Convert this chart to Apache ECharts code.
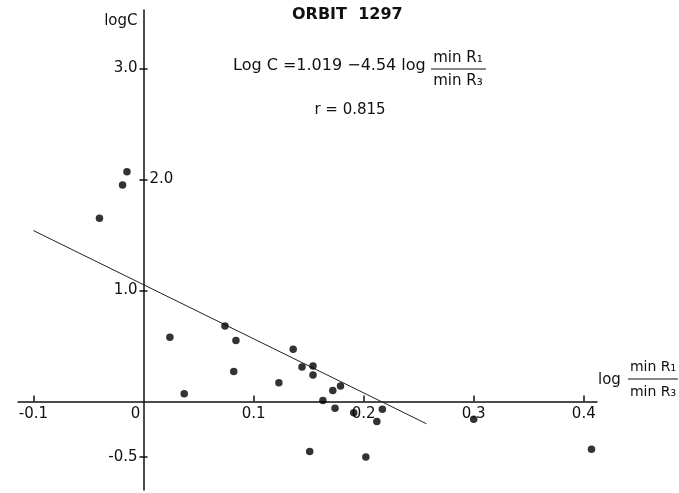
<!DOCTYPE html>
<html>
<head>
<meta charset="utf-8">
<script src="https://cdn.jsdelivr.net/npm/echarts@6/dist/echarts.min.js"></script>
<style>
  html, body { margin: 0; padding: 0; background: #fff; }
  #chart { width: 679px; height: 493px; }
</style>
</head>
<body>
<div id="chart"></div>
<script>
  // values
  var ratioLog = [-0.015, -0.019, -0.040, 0.024, 0.037, 0.074, 0.084, 0.082, 0.123, 0.136, 0.144, 0.154,
                  0.154, 0.163, 0.172, 0.174, 0.179, 0.191, 0.217, 0.212, 0.151, 0.202, 0.300, 0.407];
  var logC = [2.07, 1.95, 1.65, 0.58, 0.07, 0.68, 0.55, 0.27, 0.17, 0.47, 0.31, 0.32,
              0.24, 0.01, 0.10, -0.06, 0.14, -0.10, -0.07, -0.18, -0.45, -0.50, -0.16, -0.43];
  // regression line ends
  var fitX = [-0.1, 0.257];
  var fitY = [1.54, -0.20];
  // ticks and tick labels
  var xTicks = [-0.1, 0.1, 0.2, 0.3, 0.4];
  var xTickLabels = [-0.1, 0, 0.1, 0.2, 0.3, 0.4];
  var yTicks = [3.0, 2.0, 1.0, -0.5];
  var yLabelsLeft = [3.0, 1.0, -0.5];
  var yLabelsRight = [2.0];

  var font = 'DejaVu Sans';
  var ink = '#111';

  var pts = ratioLog.map(function (x, i) { return [x, logC[i]]; });
  var fit = fitX.map(function (x, i) { return [x, fitY[i]]; });

  var chart = echarts.init(document.getElementById('chart'));

  // axes cross at the origin: offsets move them from the grid edges to x=0 / y=0
  var yAxisShift = -125.5;
  var xAxisShift = -88.5;

  var option = {
    animation: false,
    backgroundColor: '#fff',
    title: {
      text: 'ORBIT  1297',
      left: 292,
      top: 7,
      padding: 0,
      textStyle: { fontFamily: font, fontSize: 16, fontWeight: 'bold', color: ink }
    },
    grid: { left: 18, right: 82, top: 10, bottom: 3, containLabel: false, outerBoundsMode: 'none' },
    xAxis: {
      type: 'value',
      min: -0.114,
      max: 0.412,
      position: 'bottom',
      offset: xAxisShift,
      axisLine: { show: true, onZero: false, lineStyle: { color: ink, width: 1.5 } },
      axisTick: { show: true, inside: true, length: 6, customValues: xTicks, lineStyle: { color: ink, width: 1.5 } },
      axisLabel: {
        show: true,
        customValues: xTickLabels,
        margin: 5,
        fontFamily: font,
        fontSize: 15,
        color: ink,
        formatter: function (v) {
          if (Math.abs(v) < 1e-9) return '{z|0}';
          return v.toFixed(1);
        },
        rich: { z: { fontFamily: font, fontSize: 15, color: ink, padding: [0, 16, 0, 0] } }
      },
      splitLine: { show: false }
    },
    yAxis: [
      {
        type: 'value',
        min: -0.797,
        max: 3.527,
        position: 'left',
        offset: yAxisShift,
        name: 'logC',
        nameLocation: 'end',
        nameGap: -4,
        nameTextStyle: { fontFamily: font, fontSize: 15, color: ink, align: 'right', verticalAlign: 'top', padding: [0, 6, 0, 0] },
        axisLine: { show: true, onZero: false, lineStyle: { color: ink, width: 1.5 } },
        axisTick: { show: true, inside: false, length: 4, customValues: yTicks, lineStyle: { color: ink, width: 1.5 } },
        axisLabel: {
          show: true,
          customValues: yLabelsLeft,
          margin: 6,
          fontFamily: font,
          fontSize: 15,
          color: ink,
          formatter: function (v) { return v.toFixed(1); }
        },
        splitLine: { show: false }
      },
      {
        type: 'value',
        min: -0.797,
        max: 3.527,
        position: 'left',
        offset: yAxisShift,
        axisLine: { show: false, onZero: false },
        axisTick: { show: true, inside: true, length: 4, customValues: yTicks, lineStyle: { color: ink, width: 1.5 } },
        axisLabel: {
          show: true,
          inside: true,
          customValues: yLabelsRight,
          margin: 6,
          fontFamily: font,
          fontSize: 15,
          color: ink,
          formatter: function (v) { return v.toFixed(1); }
        },
        splitLine: { show: false }
      }
    ],
    series: [
      {
        name: 'fit',
        type: 'line',
        data: fit,
        symbol: 'none',
        lineStyle: { color: '#222', width: 1 },
        z: 2
      },
      {
        name: 'orbit 1297',
        type: 'scatter',
        data: pts,
        symbolSize: 7.5,
        itemStyle: { color: '#000' },
        z: 3
      }
    ],
    graphic: [
      { type: 'text', x: 233, y: 66, style: { text: 'Log C =1.019 −4.54 log', fontFamily: font, fontSize: 16, fill: ink, textAlign: 'left', textVerticalAlign: 'middle' } },
      { type: 'text', x: 458, y: 58, style: { text: 'min R₁', fontFamily: font, fontSize: 15, fill: ink, textAlign: 'center', textVerticalAlign: 'middle' } },
      { type: 'line', shape: { x1: 431, y1: 69, x2: 486, y2: 69 }, style: { stroke: ink, lineWidth: 1 } },
      { type: 'text', x: 458, y: 81, style: { text: 'min R₃', fontFamily: font, fontSize: 15, fill: ink, textAlign: 'center', textVerticalAlign: 'middle' } },
      { type: 'text', x: 350, y: 110, style: { text: 'r = 0.815', fontFamily: font, fontSize: 15, fill: ink, textAlign: 'center', textVerticalAlign: 'middle' } },
      { type: 'text', x: 598, y: 380, style: { text: 'log', fontFamily: font, fontSize: 15, fill: ink, textAlign: 'left', textVerticalAlign: 'middle' } },
      { type: 'text', x: 653, y: 367, style: { text: 'min R₁', fontFamily: font, fontSize: 14, fill: ink, textAlign: 'center', textVerticalAlign: 'middle' } },
      { type: 'line', shape: { x1: 628, y1: 379, x2: 678, y2: 379 }, style: { stroke: ink, lineWidth: 1 } },
      { type: 'text', x: 653, y: 392, style: { text: 'min R₃', fontFamily: font, fontSize: 14, fill: ink, textAlign: 'center', textVerticalAlign: 'middle' } }
    ]
  };

  chart.setOption(option);
</script>
</body>
</html>
